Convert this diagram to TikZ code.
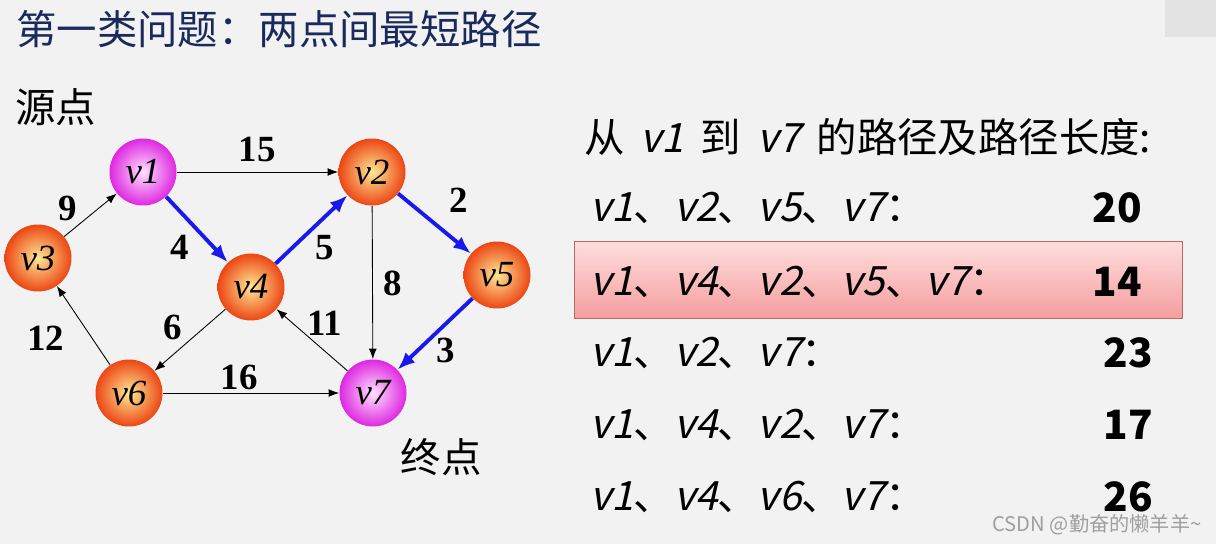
\documentclass[tikz,border=0pt]{standalone}
\usepackage{fontspec}
\setmainfont{Liberation Serif}
\newfontfamily\cjk{Noto Sans CJK SC}
\newfontfamily\cjkslant[FakeSlant=0.22]{Noto Sans CJK SC}
\usetikzlibrary{arrows.meta}
\definecolor{bgpage}{RGB}{242,242,242}
\definecolor{titleblue}{RGB}{27,42,92}
\definecolor{pathblue}{RGB}{25,25,235}
\definecolor{ballout}{RGB}{236,70,20}
\definecolor{ballin}{RGB}{255,232,150}
\definecolor{endout}{RGB}{222,40,225}
\definecolor{endin}{RGB}{255,225,255}
\definecolor{hltop}{RGB}{255,222,222}
\definecolor{hlbot}{RGB}{244,158,158}
\definecolor{hlline}{RGB}{185,105,95}
\newcommand{\pv}[1]{{\cjkslant v#1}}
\begin{document}
\begin{tikzpicture}[x=0.02cm, y=-0.02cm,
  vertex/.style={circle, minimum size=1.34cm, inner sep=0pt,
                 font=\fontsize{21}{21}\selectfont\itshape,
                 shading=radial, inner color=ballin, outer color=ballout},
  endpt/.style={vertex, inner color=endin, outer color=endout},
  edge/.style={-{Latex[length=6pt,width=4.5pt]}, line width=0.5pt},
  path/.style={-{Latex[length=10pt,width=8pt]}, line width=2.2pt, draw=pathblue},
  wt/.style={font=\fontsize{21}{21}\selectfont\bfseries, inner sep=1pt},
  zh/.style={font=\cjk\fontsize{23}{23}\selectfont},
  row/.style={font=\cjk\fontsize{23}{23}\selectfont, anchor=west},
  len/.style={font=\cjk\bfseries\fontsize{23}{23}\selectfont, anchor=east}
]
  \useasboundingbox[fill=bgpage] (0,0) rectangle (1216,544);
  \fill[gray!22] (1165,0) rectangle (1216,37);

  \node[zh, text=titleblue, anchor=west] (title) at (10,29) {第一类问题：两点间最短路径};
  \node[zh] (src) at (56,107) {源点};
  \node[zh] (dst) at (441,457) {终点};

  % graph
  \node[endpt]  (v1) at (143,172) {v1};
  \node[vertex] (v2) at (372,172) {v2};
  \node[vertex] (v3) at (38,258)  {v3};
  \node[vertex] (v4) at (251,287) {v4};
  \node[vertex] (v5) at (497,275) {v5};
  \node[vertex] (v6) at (129,393) {v6};
  \node[endpt]  (v7) at (373,393) {v7};

  \draw[edge] (v3) -- (v1);
  \draw[edge] (v1) -- (v2);
  \draw[edge] (v2) -- (v7);
  \draw[edge] (v7) -- (v4);
  \draw[edge] (v4) -- (v6);
  \draw[edge] (v6) -- (v3);
  \draw[edge] (v6) -- (v7);
  \draw[path] (v1) -- (v4);
  \draw[path] (v4) -- (v2);
  \draw[path] (v2) -- (v5);
  \draw[path] (v5) -- (v7);

  \node[wt] (w15) at (257,150) {15};
  \node[wt] (w9)  at (68,208)  {9};
  \node[wt] (w4)  at (180,247) {4};
  \node[wt] (w5)  at (325,248) {5};
  \node[wt] (w2)  at (459,200) {2};
  \node[wt] (w8)  at (393,283) {8};
  \node[wt] (w6)  at (173,327) {6};
  \node[wt] (w11) at (325,323) {11};
  \node[wt] (w12) at (46,338)  {12};
  \node[wt] (w16) at (239,377) {16};
  \node[wt] (w3)  at (446,350) {3};

  % paths from v1 to v7
  \node[zh, anchor=west] (head) at (578,137)
    {从\hspace{0.4em}\pv{1}\hspace{0.4em}到\hspace{0.4em}\pv{7}\hspace{0.4em}的路径及路径长度:};
  \draw[hlline, top color=hltop, bottom color=hlbot] (574,241) rectangle (1182,318);
  \node[row] (r1) at (584,208) {\pv{1}、\pv{2}、\pv{5}、\pv{7}：};
  \node[len] (l1) at (1148,208) {20};
  \node[row] (r2) at (584,282) {\pv{1}、\pv{4}、\pv{2}、\pv{5}、\pv{7}：};
  \node[len] (l2) at (1148,282) {14};
  \node[row] (r3) at (584,353) {\pv{1}、\pv{2}、\pv{7}：};
  \node[len] (l3) at (1159,353) {23};
  \node[row] (r4) at (584,425) {\pv{1}、\pv{4}、\pv{2}、\pv{7}：};
  \node[len] (l4) at (1159,425) {17};
  \node[row] (r5) at (584,497) {\pv{1}、\pv{4}、\pv{6}、\pv{7}：};
  \node[len] (l5) at (1159,497) {26};

  \node[font=\cjk\fontsize{11.5}{11.5}\selectfont, text=gray!75] (mark) at (1097,525)
    {CSDN @勤奋的懒羊羊{\char"007E}};
\end{tikzpicture}
\end{document}
